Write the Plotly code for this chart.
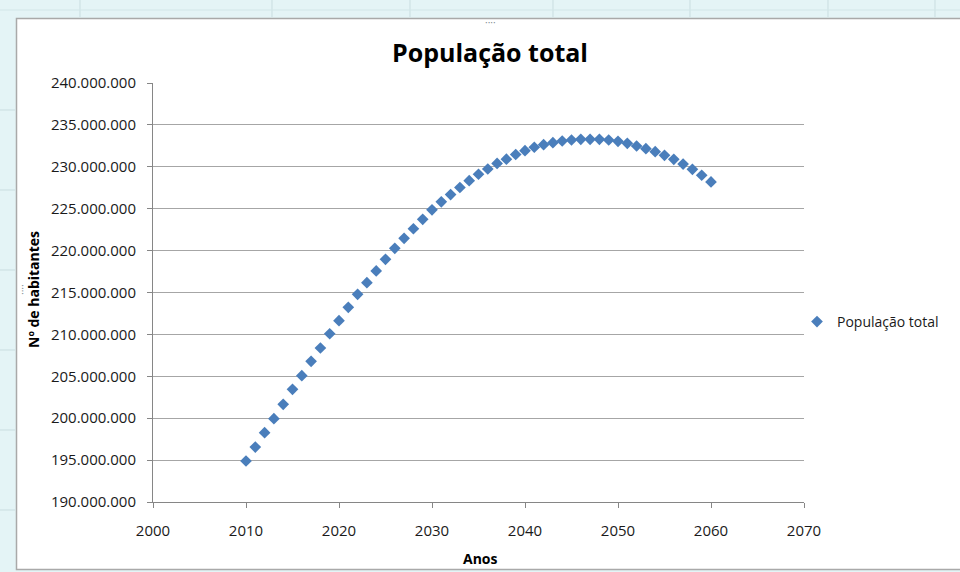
import plotly.graph_objects as go

anos = list(range(2010, 2061))
populacao = [
    194.89, 196.56, 198.27, 199.94, 201.66, 203.45, 205.07, 206.79, 208.38, 210.08,
    211.64, 213.23, 214.78, 216.17, 217.57, 218.96, 220.27, 221.47, 222.61, 223.73,
    224.87, 225.82, 226.68, 227.53, 228.34, 229.11, 229.74, 230.40, 230.91, 231.47,
    231.92, 232.33, 232.64, 232.88, 233.08, 233.20, 233.28, 233.28, 233.28, 233.20,
    233.04, 232.80, 232.48, 232.16, 231.80, 231.37, 230.89, 230.33, 229.70, 228.99,
    228.19,
]
populacao = [round(v * 1e6) for v in populacao]

serie_nome = "População total"
titulo = "População total"
x_titulo = "Anos"
y_titulo = "Nº de habitantes"

W, H = 960, 572
L, R, T, B = 153, 804, 83, 502

def px(X):
    return (X - L) / (R - L)

def py(Y):
    return (B - Y) / (B - T)

FONT = "Open Sans, Noto Sans, sans-serif"
BLUE = "#4a7ebb"

fig = go.Figure()
fig.add_trace(go.Scatter(
    x=anos, y=populacao, mode="markers", name=serie_nome,
    marker=dict(symbol="diamond", size=9, color=BLUE, line=dict(width=0)),
    showlegend=True,
))

shapes = [
    dict(type="rect", xref="paper", yref="paper", x0=px(-5), x1=px(W + 5), y0=py(-5), y1=py(H + 5),
         fillcolor="#e4f4f6", line=dict(width=0), layer="below"),
    dict(type="rect", xref="paper", yref="paper", x0=px(16.5), x1=px(W + 20), y0=py(18.5), y1=py(569.5),
         fillcolor="white", line=dict(color="#a9a9a9", width=1.5), layer="below"),
]
for cx in [80, 272, 410, 553, 690, 828, 935]:
    shapes.append(dict(type="line", xref="paper", yref="paper", x0=px(cx), x1=px(cx), y0=py(0), y1=py(17),
                       line=dict(color="#c9dde0", width=1), layer="below"))
for cy in [110, 190, 270, 350, 430, 510]:
    shapes.append(dict(type="line", xref="paper", yref="paper", x0=px(0), x1=px(15), y0=py(cy), y1=py(cy),
                       line=dict(color="#c9dde0", width=1), layer="below"))
shapes.append(dict(type="line", xref="paper", yref="paper", x0=px(0), x1=px(W), y0=py(10), y1=py(10),
                   line=dict(color="#d2e6e8", width=1), layer="below"))

fig.update_layout(
    width=W, height=H,
    margin=dict(l=L, r=W - R, t=T, b=H - B),
    paper_bgcolor="white",
    plot_bgcolor="rgba(0,0,0,0)",
    separators=",.",
    font=dict(family=FONT, size=15, color="#1a1a1a"),
    title=dict(text="<b>" + titulo + "</b>", x=490 / W, xref="container", xanchor="center",
               y=1 - 53 / H, yref="container", yanchor="middle",
               font=dict(family=FONT, size=25, color="black")),
    xaxis=dict(range=[2000, 2070], dtick=10, tick0=2000, showgrid=False, zeroline=False,
               showline=True, linecolor="#868686", linewidth=1,
               ticks="outside", ticklen=5, tickcolor="#868686",
               tickfont=dict(size=15, family=FONT, color="#1a1a1a"), ticklabelstandoff=10),
    yaxis=dict(range=[190e6, 240e6], dtick=5e6, tick0=190e6, tickformat=",d",
               showgrid=True, gridcolor="#a6a6a6", gridwidth=1, zeroline=False,
               showline=True, linecolor="#868686", linewidth=1,
               ticks="outside", ticklen=5, tickcolor="#868686",
               tickfont=dict(size=15, family=FONT, color="#1a1a1a"), ticklabelstandoff=8),
    legend=dict(x=px(797), y=py(322), xanchor="left", yanchor="middle",
                font=dict(size=14, family=FONT, color="#1a1a1a"), bgcolor="rgba(0,0,0,0)"),
    shapes=shapes,
    annotations=[
        dict(text="<b>" + x_titulo + "</b>", xref="paper", yref="paper", x=px(480), y=py(558),
             showarrow=False, xanchor="center", yanchor="middle", font=dict(size=14, family=FONT, color="black")),
        dict(text="<b>" + y_titulo + "</b>", xref="paper", yref="paper", x=px(33), y=py(290),
             showarrow=False, xanchor="center", yanchor="middle", textangle=-90,
             font=dict(size=14, family=FONT, color="black")),
        dict(text="····", xref="paper", yref="paper", x=px(490), y=py(13), showarrow=False,
             font=dict(size=10, color="#7f8f93")),
        dict(text="····", xref="paper", yref="paper", x=px(13), y=py(290), showarrow=False, textangle=-90,
             font=dict(size=10, color="#7f8f93")),
    ],
)

fig.write_html("out.html", config={"displayModeBar": False},
               post_script="document.body.style.margin='0';document.body.style.padding='0';document.body.style.overflow='hidden';")
